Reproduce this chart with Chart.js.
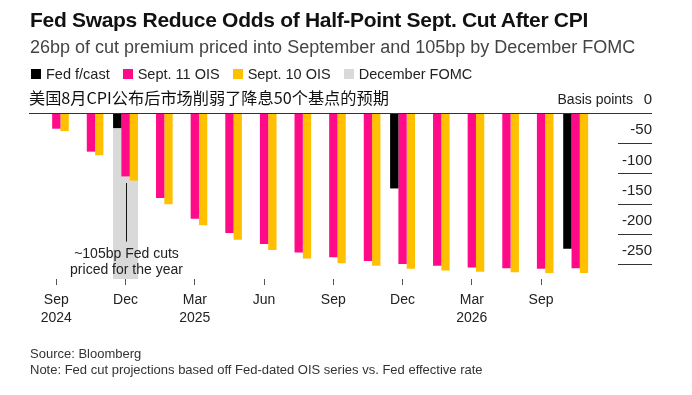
<!DOCTYPE html>
<html>

<head>
    <title>Fed Swaps</title>
    <script src="https://cdn.jsdelivr.net/npm/chart.js"></script>
    <style>
        body {
            margin: 0;
            background: #fff;
            font-family: "Liberation Sans", Arial, sans-serif;
        }

        #wrap {
            position: relative;
            width: 692px;
            height: 395px;
            overflow: hidden;
        }

        #chartBox {
            position: absolute;
            left: 0;
            top: 0;
            width: 692px;
            height: 395px;
        }

        .txt {
            position: absolute;
            left: 30px;
            white-space: nowrap;
        }

        #title { top: 9px; font-size: 21px; font-weight: bold; line-height: 22px; color: #111; letter-spacing: -0.3px; }
        #subtitle { top: 36px; font-size: 18px; line-height: 22px; color: #444; }
        #legend { top: 64px; left: 31px; font-size: 14.5px; line-height: 20px; color: #222; display: flex; align-items: center; }
        #legend .box { width: 10px; height: 10px; margin-right: 5px; }
        #legend .item { display: flex; align-items: center; margin-right: 13px; }
        #cn { top: 86px; left: 29px; font-size: 16.2px; line-height: 22px; color: #111; font-family: "Noto Sans CJK SC", sans-serif; }
        #source { top: 345px; font-size: 13px; line-height: 18px; color: #333; }
        #note { top: 361px; font-size: 13px; line-height: 18px; color: #333; }
    </style>
</head>

<body>
    <div id="wrap">
        <div id="chartBox"><canvas id="myChart"></canvas></div>
        <div class="txt" id="title">Fed Swaps Reduce Odds of Half-Point Sept. Cut After CPI</div>
        <div class="txt" id="subtitle">26bp of cut premium priced into September and 105bp by December FOMC</div>
        <div class="txt" id="legend"></div>
        <div class="txt" id="cn">美国8月CPI公布后市场削弱了降息50个基点的预期</div>
        <div class="txt" id="source">Source: Bloomberg</div>
        <div class="txt" id="note">Note: Fed cut projections based off Fed-dated OIS series vs. Fed effective rate</div>
    </div>

    <script>
        // FOMC meetings (categories)
        const meetings = ['Sep 2024', 'Nov 2024', 'Dec 2024', 'Jan 2025', 'Mar 2025', 'May 2025', 'Jun 2025', 'Jul 2025',
            'Sep 2025', 'Oct 2025', 'Dec 2025', 'Jan 2026', 'Mar 2026', 'Apr 2026', 'Jun 2026', 'Jul 2026'];
        // x tick labels shown under every other meeting
        const tickLabels = [['Sep', '2024'], '', 'Dec', '', ['Mar', '2025'], '', 'Jun', '', 'Sep', '', 'Dec', '', ['Mar', '2026'], '', 'Sep', ''];
        const yTicks = [0, -50, -100, -150, -200, -250];

        // basis points
        const fedForecast = [null, null, -25, null, null, null, null, null, null, null, -125, null, null, null, null, -225];
        const sept11 = [-26, -64, -105, -141, -175, -199, -217, -231, -239, -245, -250, -253, -256, -257, -258, -257];
        const sept10 = [-30, -70, -112, -151, -186, -210, -227, -241, -249, -253, -258, -261, -263, -264, -265, -265];
        const decFomc = [null, null, -275, null, null, null, null, null, null, null, null, null, null, null, null, null];

        const colors = { fed: '#000000', s11: '#ff0a88', s10: '#ffc000', dec: '#d9d9d9' };

        // little legend in html
        const legendItems = [['Fed f/cast', colors.fed], ['Sept. 11 OIS', colors.s11], ['Sept. 10 OIS', colors.s10], ['December FOMC', colors.dec]];
        document.getElementById('legend').innerHTML = legendItems.map(it =>
            `<span class="item"><span class="box" style="background:${it[1]}"></span>${it[0]}</span>`).join('');

        // zero line, short y grid marks, axis title and the annotation
        const extras = {
            id: 'extras',
            afterDatasetsDraw(chart) {
                const { ctx, chartArea, scales } = chart;
                const y = scales.y, x = scales.x;
                ctx.save();
                ctx.strokeStyle = '#333';
                ctx.lineWidth = 1;
                yTicks.forEach(v => {
                    const py = Math.round(y.getPixelForValue(v)) + 0.5;
                    ctx.beginPath();
                    ctx.moveTo(v === 0 ? chartArea.left - 10 : y.right - 34, py);
                    ctx.lineTo(y.right, py);
                    ctx.stroke();
                });
                ctx.fillStyle = '#222';
                ctx.font = '14px "Liberation Sans", Arial, sans-serif';
                ctx.textAlign = 'right';
                ctx.textBaseline = 'middle';
                ctx.fillText('Basis points', y.right - 19, y.getPixelForValue(0) - 13);

                // annotation at December
                const ax = Math.round(x.getPixelForValue(2)) + 0.5;
                ctx.strokeStyle = '#111';
                ctx.beginPath();
                ctx.moveTo(ax, y.getPixelForValue(-116));
                ctx.lineTo(ax, y.getPixelForValue(-213));
                ctx.stroke();
                ctx.textAlign = 'center';
                ctx.fillText('~105bp Fed cuts', ax, y.getPixelForValue(-233));
                ctx.fillText('priced for the year', ax, y.getPixelForValue(-260));
                ctx.restore();
            }
        };

        const ctx = document.getElementById('myChart').getContext('2d');
        const myChart = new Chart(ctx, {
            type: 'bar',
            data: {
                labels: meetings,
                datasets: [{
                    label: 'Fed f/cast',
                    data: fedForecast,
                    backgroundColor: colors.fed,
                    order: 1
                }, {
                    label: 'Sept. 11 OIS',
                    data: sept11,
                    backgroundColor: colors.s11,
                    order: 1
                }, {
                    label: 'Sept. 10 OIS',
                    data: sept10,
                    backgroundColor: colors.s10,
                    order: 1
                }, {
                    label: 'December FOMC',
                    data: decFomc,
                    backgroundColor: colors.dec,
                    grouped: false,
                    order: 5
                }]
            },
            options: {
                responsive: true,
                maintainAspectRatio: false,
                animation: false,
                categoryPercentage: 0.72,
                barPercentage: 1.0,
                layout: { padding: { left: 39, right: 40, top: 113, bottom: 56 } },
                plugins: {
                    legend: { display: false },
                    tooltip: { enabled: false }
                },
                scales: {
                    x: {
                        offset: true,
                        grid: { display: true, drawOnChartArea: false, drawTicks: true, tickLength: 6, offset: false, color: '#555' },
                        border: { display: false },
                        ticks: {
                            autoSkip: false,
                            maxRotation: 0,
                            padding: 6,
                            color: '#222',
                            font: { family: '"Liberation Sans", Arial, sans-serif', size: 14, lineHeight: 1.3 },
                            callback: (v, i) => tickLabels[i] || null
                        },
                        afterFit: s => { s.height = 60; }
                    },
                    y: {
                        position: 'right',
                        min: -275,
                        max: 0,
                        grid: { display: false },
                        border: { display: false },
                        afterBuildTicks: s => { s.ticks = yTicks.map(v => ({ value: v })); },
                        afterFit: s => { s.width = 59; },
                        ticks: {
                            crossAlign: 'far',
                            padding: 0,
                            labelOffset: -13,
                            color: '#222',
                            font: { family: '"Liberation Sans", Arial, sans-serif', size: 15 },
                            callback: v => v
                        }
                    }
                }
            },
            plugins: [extras]
        });
    </script>
</body>

</html>
